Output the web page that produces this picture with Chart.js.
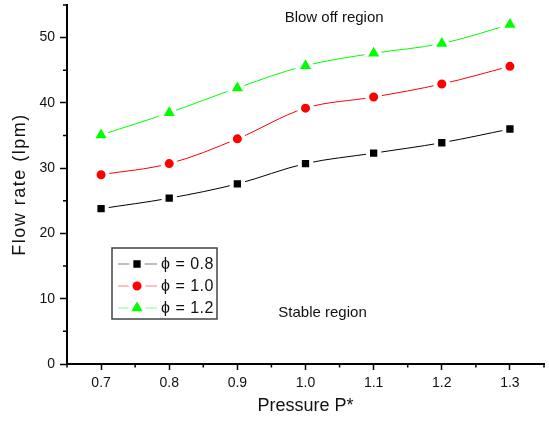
<!DOCTYPE html>
<html>
<head>
<meta charset="utf-8">
<script src="https://cdn.jsdelivr.net/npm/chart.js@4.4.0/dist/chart.umd.min.js"></script>
<style>
  html, body { margin: 0; padding: 0; background: #fff; }
  canvas { display: block; }
</style>
</head>
<body>
<canvas id="flowChart" width="549" height="422"></canvas>
<script>
// --- data ---
const pressure = [0.7, 0.8, 0.9, 1.0, 1.1, 1.2, 1.3];
const flowPhi08 = [23.8, 25.4, 27.6, 30.7, 32.3, 33.9, 36.0];
const flowPhi10 = [29.0, 30.7, 34.5, 39.2, 40.9, 42.9, 45.6];
const flowPhi12 = [35.1, 38.5, 42.3, 45.7, 47.6, 49.1, 52.0];

const xTickValues = [0.7, 0.8, 0.9, 1.0, 1.1, 1.2, 1.3];
const xMinorValues = [0.65, 0.75, 0.85, 0.95, 1.05, 1.15, 1.25, 1.35];
const yTickValues = [0, 10, 20, 30, 40, 50];
const yMinorValues = [5, 15, 25, 35, 45, 55];

const seriesLabels = ['\u03D5 = 0.8', '\u03D5 = 1.0', '\u03D5 = 1.2'];
const regionNotes = [
  { text: 'Blow off region', x: 1.042, y: 53.1 },
  { text: 'Stable region', x: 1.025, y: 7.8 }
];

const FONT = '"Liberation Sans", Arial, "DejaVu Sans", sans-serif';
const GAP = 4; // white rim round each marker, gives the Origin-style line gap

function makeSeries(label, values, color, style, radius) {
  return {
    label: label,
    data: pressure.map((p, i) => ({ x: p, y: values[i] })),
    borderColor: color,
    backgroundColor: color,
    borderWidth: 1,
    tension: 0.35,
    pointStyle: style,
    pointRadius: radius,
    pointHoverRadius: radius,
    pointBackgroundColor: color,
    pointBorderColor: '#ffffff',
    pointBorderWidth: GAP
  };
}

// same shapes as chart.js uses, for the legend
function drawMarker(ctx, style, x, y, r, fill) {
  ctx.save();
  ctx.fillStyle = fill;
  ctx.strokeStyle = '#fff';
  ctx.lineWidth = GAP;
  ctx.beginPath();
  if (style === 'rect') {
    const s = r * Math.SQRT1_2;
    ctx.rect(x - s, y - s, 2 * s, 2 * s);
  } else if (style === 'circle') {
    ctx.arc(x, y, r, 0, Math.PI * 2);
  } else {
    for (let k = 0; k < 3; k++) {
      const a = k * Math.PI * 2 / 3;
      const px = x + Math.sin(a) * r;
      const py = y - Math.cos(a) * r;
      if (k === 0) ctx.moveTo(px, py); else ctx.lineTo(px, py);
    }
    ctx.closePath();
  }
  ctx.fill();
  ctx.stroke();
  ctx.restore();
}

// minor ticks, region notes, y title and the boxed legend
const extrasPlugin = {
  id: 'extras',
  afterDraw(chart) {
    const ctx = chart.ctx;
    const xs = chart.scales.x;
    const ys = chart.scales.y;
    const area = chart.chartArea;

    ctx.save();
    ctx.strokeStyle = '#000';
    ctx.lineWidth = 1.5;
    ctx.beginPath();
    xMinorValues.forEach(v => {
      const px = xs.getPixelForValue(v);
      ctx.moveTo(px, area.bottom);
      ctx.lineTo(px, area.bottom + 3.5);
    });
    yMinorValues.forEach(v => {
      const py = ys.getPixelForValue(v);
      ctx.moveTo(area.left, py);
      ctx.lineTo(area.left - 4, py);
    });
    ctx.stroke();

    // region notes
    ctx.fillStyle = '#111';
    ctx.font = '15px ' + FONT;
    ctx.textAlign = 'center';
    ctx.textBaseline = 'middle';
    regionNotes.forEach(n => {
      ctx.fillText(n.text, xs.getPixelForValue(n.x), ys.getPixelForValue(n.y));
    });

    // y axis title
    ctx.save();
    ctx.translate(20, (area.top + area.bottom) / 2);
    ctx.rotate(-Math.PI / 2);
    ctx.font = '18px ' + FONT;
    ctx.letterSpacing = '1.5px';
    ctx.fillText('Flow rate (lpm)', 0, 0);
    ctx.restore();

    // legend
    const box = { left: 112, top: 248, width: 105, height: 71 };
    ctx.fillStyle = '#fff';
    ctx.fillRect(box.left, box.top, box.width, box.height);
    ctx.strokeStyle = '#444';
    ctx.lineWidth = 1.5;
    ctx.strokeRect(box.left, box.top, box.width, box.height);

    chart.data.datasets.forEach((ds, i) => {
      const cy = 264 + i * 22;
      ctx.save();
      ctx.globalAlpha = 0.5;
      ctx.strokeStyle = ds.borderColor;
      ctx.lineWidth = 1;
      ctx.beginPath();
      ctx.moveTo(118, cy);
      ctx.lineTo(157, cy);
      ctx.stroke();
      ctx.restore();

      drawMarker(ctx, ds.pointStyle, 137, cy, ds.pointRadius, ds.pointBackgroundColor);

      ctx.fillStyle = '#111';
      ctx.font = '16px ' + FONT;
      ctx.letterSpacing = '0.5px';
      ctx.textAlign = 'left';
      ctx.textBaseline = 'middle';
      ctx.fillText(ds.label, 161, cy + 1);
      ctx.letterSpacing = '0px';
    });
    ctx.restore();
  }
};

new Chart(document.getElementById('flowChart'), {
  type: 'line',
  data: {
    datasets: [
      makeSeries(seriesLabels[0], flowPhi08, '#000000', 'rect', 8),
      makeSeries(seriesLabels[1], flowPhi10, '#ff0000', 'circle', 6.5),
      makeSeries(seriesLabels[2], flowPhi12, '#00ff00', 'triangle', 10.5)
    ]
  },
  options: {
    responsive: false,
    animation: false,
    layout: { autoPadding: false, padding: { top: 5, right: 5, left: 0, bottom: 0 } },
    plugins: {
      legend: { display: false },
      tooltip: { enabled: false }
    },
    scales: {
      x: {
        type: 'linear',
        min: 0.65,
        max: 1.35,
        afterBuildTicks: scale => { scale.ticks = xTickValues.map(v => ({ value: v })); },
        afterFit: scale => {
          scale.height = 58;
          scale.paddingLeft = 0;
          scale.paddingRight = 0;
        },
        border: { display: true, color: '#000', width: 2 },
        grid: { display: true, drawOnChartArea: false, drawTicks: true, tickLength: 6, tickWidth: 1.5, tickColor: '#000' },
        ticks: {
          padding: 5,
          color: '#111',
          font: { family: FONT, size: 14 },
          maxRotation: 0,
          callback: v => Number(v).toFixed(1)
        },
        title: {
          display: true,
          text: 'Pressure P*',
          color: '#111',
          font: { family: FONT, size: 18 },
          padding: { top: 0, bottom: 5 }
        }
      },
      y: {
        type: 'linear',
        min: 0,
        max: 55,
        afterBuildTicks: scale => { scale.ticks = yTickValues.map(v => ({ value: v })); },
        afterFit: scale => {
          scale.width = 67;
          scale.paddingTop = 0;
          scale.paddingBottom = 0;
        },
        border: { display: true, color: '#000', width: 2 },
        grid: { display: true, drawOnChartArea: false, drawTicks: true, tickLength: 7, tickWidth: 1.5, tickColor: '#000' },
        ticks: {
          padding: 5,
          color: '#111',
          font: { family: FONT, size: 14 },
          callback: v => String(v)
        }
      }
    }
  },
  plugins: [extrasPlugin]
});
</script>
</body>
</html>
